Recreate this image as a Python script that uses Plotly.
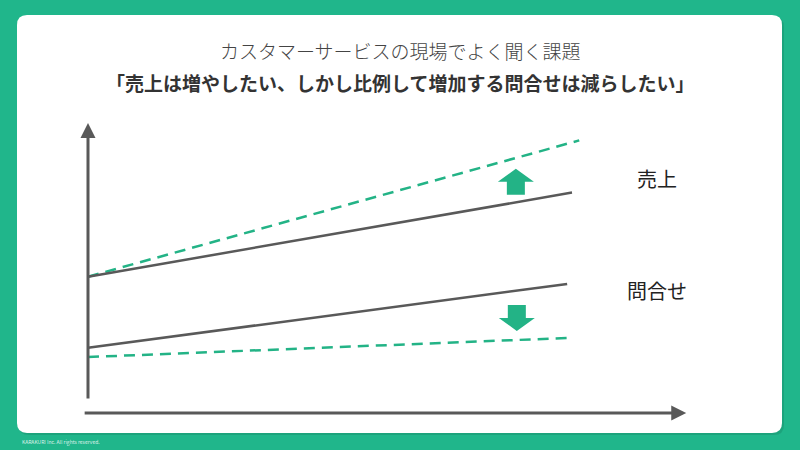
import plotly.graph_objects as go

# conceptual chart: x = time (0 = now), y = volume
sales_x = [0, 100]
sales_now = [47, 76]
sales_goal_x = [0, 101.5]
sales_goal = [47, 94]
inquiry_x = [0, 99]
inquiry_now = [22.5, 44.5]
inquiry_goal_x = [0, 99.5]
inquiry_goal = [19.3, 25.9]

title_top = "カスタマーサービスの現場でよく聞く課題"
title_main = "「売上は増やしたい、しかし比例して増加する問合せは減らしたい」"
label_sales = "売上"
label_inquiry = "問合せ"
copyright_text = "KARAKURI Inc. All rights reserved."

W, H = 800, 450
ORIGIN_PX = (88, 413)  # pixel position of the data origin
SX, SY = 4.84, 2.9     # pixels per data unit

BG_GREEN = "#20b68b"
ARROW_GREEN = "#23b386"
GRAY = "#595959"
FONT = "Noto Sans CJK JP"


def paper(px, py):
    return px / W, 1 - py / H


def rounded_rect(x0, y0, x1, y1, r):
    # pixel coords -> paper path with rounded corners
    def p(x, y):
        a, b = paper(x, y)
        return f"{a:.5f},{b:.5f}"
    return (
        f"M{p(x0 + r, y0)} L{p(x1 - r, y0)} Q{p(x1, y0)} {p(x1, y0 + r)} "
        f"L{p(x1, y1 - r)} Q{p(x1, y1)} {p(x1 - r, y1)} "
        f"L{p(x0 + r, y1)} Q{p(x0, y1)} {p(x0, y1 - r)} "
        f"L{p(x0, y0 + r)} Q{p(x0, y0)} {p(x0 + r, y0)} Z"
    )


def block_arrow(cx, cy, direction, head_w=36, stem_w=18, head_h=13, stem_h=13):
    # block arrow path in data coords, sizes given in pixels
    s = 1 if direction == "up" else -1
    hw, sw = head_w / 2 / SX, stem_w / 2 / SX
    tip = cy + s * head_h / SY
    base = cy
    tail = cy - s * stem_h / SY
    pts = [
        (cx, tip), (cx + hw, base), (cx + sw, base), (cx + sw, tail),
        (cx - sw, tail), (cx - sw, base), (cx - hw, base),
    ]
    return "M" + " L".join(f"{x:.3f},{y:.3f}" for x, y in pts) + " Z"


fig = go.Figure()

fig.add_trace(go.Scatter(
    x=sales_goal_x, y=sales_goal, mode="lines",
    line=dict(color=ARROW_GREEN, width=2.5, dash="11px,7px"),
))
fig.add_trace(go.Scatter(
    x=inquiry_goal_x, y=inquiry_goal, mode="lines",
    line=dict(color=ARROW_GREEN, width=2.5, dash="11px,7px"),
))
fig.add_trace(go.Scatter(
    x=sales_x, y=sales_now, mode="lines",
    line=dict(color=GRAY, width=2.5),
))
fig.add_trace(go.Scatter(
    x=inquiry_x, y=inquiry_now, mode="lines",
    line=dict(color=GRAY, width=2.5),
))

shapes = [
    dict(type="path", xref="paper", yref="paper", layer="below",
         path=rounded_rect(19, 17, 784, 435, 10),
         fillcolor="rgba(0,0,0,0.10)", line=dict(width=0)),
    dict(type="path", xref="paper", yref="paper", layer="below",
         path=rounded_rect(17, 15, 782, 433, 10),
         fillcolor="white", line=dict(width=0)),
    dict(type="path", xref="x", yref="y",
         path=block_arrow(88.4, 79.7, "up"),
         fillcolor=ARROW_GREEN, line=dict(width=0)),
    dict(type="path", xref="x", yref="y",
         path=block_arrow(88.6, 32.8, "down"),
         fillcolor=ARROW_GREEN, line=dict(width=0)),
]

annotations = [
    # axes with arrow heads
    dict(x=0, y=100, ax=0, ay=4.5, xref="x", yref="y", axref="x", ayref="y",
         text="", showarrow=True, arrowhead=2, arrowsize=1.0, arrowwidth=3,
         arrowcolor=GRAY),
    dict(x=123.6, y=0, ax=-1, ay=0, xref="x", yref="y", axref="x", ayref="y",
         text="", showarrow=True, arrowhead=2, arrowsize=1.0, arrowwidth=3,
         arrowcolor=GRAY),
    dict(x=117.6, y=81, xref="x", yref="y", text=label_sales, showarrow=False,
         font=dict(family=FONT, size=20, color="#222")),
    dict(x=117.6, y=42.4, xref="x", yref="y", text=label_inquiry, showarrow=False,
         font=dict(family=FONT, size=20, color="#222")),
    dict(x=0.5, y=paper(0, 50)[1], xref="paper", yref="paper", yanchor="middle",
         text=title_top, showarrow=False,
         font=dict(family=FONT, size=19, color="#444", weight=300)),
    dict(x=0.5, y=paper(0, 82)[1], xref="paper", yref="paper", yanchor="middle",
         text=f"<b>{title_main}</b>", showarrow=False,
         font=dict(family=FONT, size=19, color="#333")),
    dict(x=paper(20, 0)[0], y=paper(0, 442)[1], xref="paper", yref="paper",
         xanchor="left", yanchor="middle", text=copyright_text, showarrow=False,
         font=dict(family=FONT, size=5, color="rgba(255,255,255,0.85)")),
]

fig.update_layout(
    width=W, height=H,
    margin=dict(l=0, r=0, t=0, b=0),
    paper_bgcolor=BG_GREEN,
    plot_bgcolor="rgba(0,0,0,0)",
    showlegend=False,
    xaxis=dict(range=[-ORIGIN_PX[0] / SX, (W - ORIGIN_PX[0]) / SX], visible=False,
               fixedrange=True),
    yaxis=dict(range=[-(H - ORIGIN_PX[1]) / SY, ORIGIN_PX[1] / SY], visible=False,
               fixedrange=True),
    shapes=shapes,
    annotations=annotations,
)

fig.write_html(
    "out.html",
    config={"displayModeBar": False},
    post_script="document.body.style.margin = '0'; document.body.style.overflow = 'hidden';",
)
